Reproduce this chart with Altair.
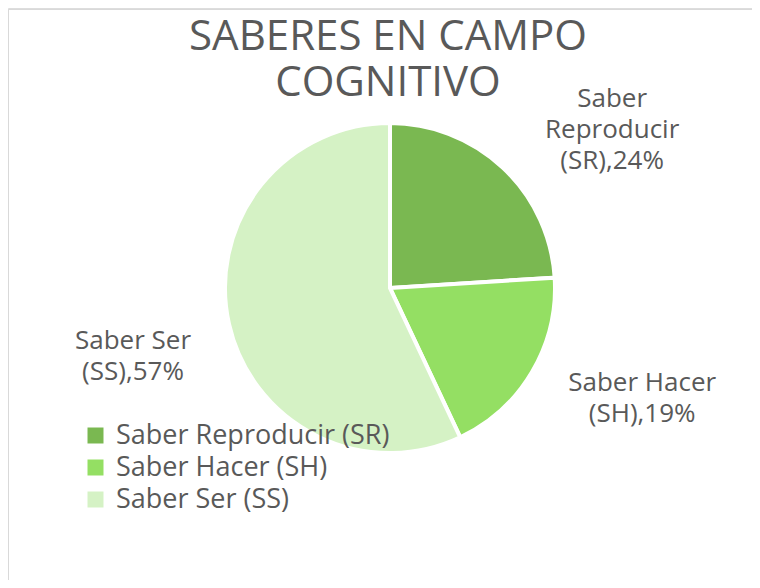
import altair as alt
import pandas as pd

# ---- data ----
categories = ["Saber Reproducir (SR)", "Saber Hacer (SH)", "Saber Ser (SS)"]
codes = ["SR", "SH", "SS"]
values = [24, 19, 57]
label_heads = ["Saber\nReproducir", "Saber Hacer", "Saber Ser"]
colors = ["#7AB851", "#94DF63", "#D5F2C5"]
title_lines = ["SABERES EN CAMPO", "COGNITIVO"]

df = pd.DataFrame({
    "cat": categories,
    "code": codes,
    "value": values,
    "order": list(range(len(categories))),
    "label": [f"{h}\n({c}),{v}%" for h, c, v in zip(label_heads, codes, values)],
})

# ---- layout / style ----
W, H = 744, 572
CX, CY = 382, 280
R = 165
R_LABEL = 250
TEXT = "#595959"
FONT = "Open Sans"

theta = alt.Theta("value:Q", stack=True)
order = alt.Order("order:Q", sort="ascending")

pie = alt.Chart(df).mark_arc(outerRadius=R, stroke="white", strokeWidth=4).encode(
    theta=theta,
    order=order,
    color=alt.Color(
        "cat:N",
        scale=alt.Scale(domain=categories, range=colors),
        legend=alt.Legend(
            title=None, orient="none", legendX=74, legendY=414,
            symbolType="square", symbolSize=256, symbolStrokeWidth=0,
            labelFontSize=27, labelFont=FONT, labelColor=TEXT,
            rowPadding=4, labelOffset=7, padding=0, labelLimit=0,
        ),
    ),
    x=alt.value(CX),
    y=alt.value(CY),
)

# mid-angle of each slice, computed from the data before picking one label
label_base = (
    alt.Chart(df)
    .transform_joinaggregate(total="sum(value)")
    .transform_window(cum="sum(value)", sort=[alt.SortField("order")], frame=[None, 0])
    .transform_calculate(mid="(datum.cum - datum.value / 2) / datum.total * 2 * PI")
)

offsets = {"SR": (51, -7), "SH": (37, -32), "SS": (-13, -2)}
label_layers = []
for code, (ddx, ddy) in offsets.items():
    label_layers.append(
        label_base.transform_filter(alt.datum.code == code)
        .mark_text(font=FONT, fontSize=26, color=TEXT, lineBreak="\n",
                   lineHeight=31, align="center", baseline="middle", dx=ddx, dy=ddy)
        .encode(theta=alt.Theta("mid:Q", scale=None, stack=False), text="label:N",
                radius=alt.value(R_LABEL), x=alt.value(CX), y=alt.value(CY))
    )

frame_df = pd.DataFrame({"a": [0]})
left_line = alt.Chart(frame_df).mark_rule(color="#D9D9D9", strokeWidth=1).encode(
    x=alt.value(0.5), y=alt.value(1.5), y2=alt.value(H))
top_line = alt.Chart(frame_df).mark_rule(color="#D9D9D9", strokeWidth=1).encode(
    x=alt.value(0.5), x2=alt.value(W), y=alt.value(1.5))

chart = alt.layer(left_line, top_line, pie, *label_layers).properties(
    width=W, height=H,
    autosize=alt.AutoSizeParams(type="none"),
    padding=0,
    title=alt.TitleParams(
        text=title_lines, font=FONT, fontSize=42, fontWeight="normal",
        color=TEXT, anchor="middle", frame="group", baseline="top",
        offset=0, dx=8, dy=97, lineHeight=46,
    ),
).configure_view(stroke=None).configure(background="white")

chart.save("out.html", embed_options={"renderer": "svg", "actions": False})
